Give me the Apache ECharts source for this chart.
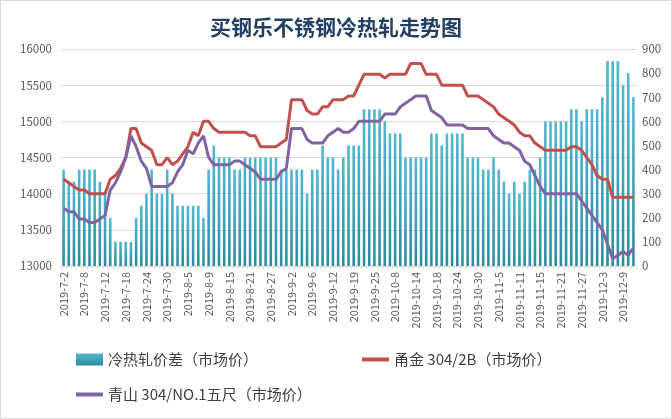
<!DOCTYPE html>
<html>
<head>
<meta charset="utf-8">
<script src="https://cdn.jsdelivr.net/npm/echarts@6/dist/echarts.min.js"></script>
<style>
html,body{margin:0;padding:0;background:#fff;}
#chart{width:672px;height:419px;box-sizing:border-box;border:1px solid #D6DCE5;}
</style>
</head>
<body>
<div id="chart"></div>
<script>
var titleText = '买钢乐不锈钢冷热轧走势图';
var seriesNames = ['冷热轧价差（市场价）', '甬金 304/2B（市场价）', '青山 304/NO.1五尺（市场价）'];

var dates = [
'2019-7-2','2019-7-3','2019-7-4','2019-7-5','2019-7-8','2019-7-9','2019-7-10','2019-7-11','2019-7-12',
'2019-7-15','2019-7-16','2019-7-17','2019-7-18','2019-7-19','2019-7-22','2019-7-23','2019-7-24','2019-7-25',
'2019-7-26','2019-7-29','2019-7-30','2019-7-31','2019-8-1','2019-8-2','2019-8-5','2019-8-6','2019-8-7',
'2019-8-8','2019-8-9','2019-8-12','2019-8-13','2019-8-14','2019-8-15','2019-8-16','2019-8-19','2019-8-20',
'2019-8-21','2019-8-22','2019-8-23','2019-8-26','2019-8-27','2019-8-28','2019-8-29','2019-8-30','2019-9-2',
'2019-9-3','2019-9-4','2019-9-5','2019-9-6','2019-9-9','2019-9-10','2019-9-11','2019-9-12','2019-9-16',
'2019-9-17','2019-9-18','2019-9-19','2019-9-20','2019-9-23','2019-9-24','2019-9-25','2019-9-26','2019-9-27',
'2019-9-30','2019-10-8','2019-10-9','2019-10-10','2019-10-11','2019-10-14','2019-10-15','2019-10-16','2019-10-17',
'2019-10-18','2019-10-21','2019-10-22','2019-10-23','2019-10-24','2019-10-25','2019-10-28','2019-10-29','2019-10-30',
'2019-10-31','2019-11-1','2019-11-4','2019-11-5','2019-11-6','2019-11-7','2019-11-8','2019-11-11','2019-11-12',
'2019-11-13','2019-11-14','2019-11-15','2019-11-18','2019-11-19','2019-11-20','2019-11-21','2019-11-22','2019-11-25',
'2019-11-26','2019-11-27','2019-11-28','2019-11-29','2019-12-2','2019-12-3','2019-12-4','2019-12-5','2019-12-6',
'2019-12-9','2019-12-10','2019-12-11'
];

var spread = [
400,350,350,400,400,400,400,350,300,200,
100,100,100,100,200,250,300,400,300,300,
400,300,250,250,250,250,250,200,400,500,
450,450,450,400,400,450,450,450,450,450,
450,450,400,400,400,400,400,300,400,400,
500,450,450,400,450,500,500,500,650,650,
650,650,600,550,550,550,450,450,450,450,
450,550,550,500,550,550,550,550,450,450,
450,400,400,450,400,350,300,350,300,350,
400,400,450,600,600,600,600,600,650,650,
600,650,650,650,700,850,850,850,750,800,
700
];

var yongjin = [
14200,14150,14100,14050,14050,14000,14000,14000,14000,14200,
14250,14350,14500,14900,14900,14700,14650,14600,14400,14400,
14500,14400,14450,14550,14650,14850,14800,15000,15000,14900,
14850,14850,14850,14850,14850,14850,14800,14800,14650,14650,
14650,14650,14700,14750,15300,15300,15300,15150,15100,15100,
15200,15200,15300,15300,15300,15350,15350,15500,15650,15650,
15650,15650,15600,15650,15650,15650,15650,15800,15800,15800,
15650,15650,15650,15500,15500,15500,15500,15500,15350,15350,
15350,15300,15250,15200,15100,15050,15000,14950,14850,14800,
14800,14700,14650,14600,14600,14600,14600,14600,14650,14650,
14600,14500,14400,14250,14200,14200,13950,13950,13950,13950,
13950
];

var qingshan = [
13800,13750,13750,13650,13650,13600,13600,13650,13700,14050,
14150,14300,14500,14800,14650,14450,14350,14100,14100,14100,
14100,14150,14300,14400,14600,14550,14700,14800,14500,14400,
14400,14400,14400,14450,14450,14400,14350,14300,14200,14200,
14200,14200,14300,14350,14900,14900,14900,14750,14700,14700,
14700,14800,14850,14900,14850,14850,14900,15000,15000,15000,
15000,15000,15100,15100,15100,15200,15250,15300,15350,15350,
15350,15150,15100,15050,14950,14950,14950,14950,14900,14900,
14900,14900,14900,14800,14750,14700,14700,14650,14600,14450,
14400,14250,14100,14000,14000,14000,14000,14000,14000,14000,
13900,13800,13700,13600,13500,13300,13100,13150,13200,13150,
13250
];

var leftTicks = {min: 13000, max: 16000, interval: 500};
var rightTicks = {min: 0, max: 900, interval: 100};

var FONT = '"Noto Sans CJK SC", "Noto Sans", sans-serif';
var chart = echarts.init(document.getElementById('chart'), null, {renderer: 'canvas'});

var legendText = {fontSize: 15, color: '#404040', fontFamily: FONT};
var plain = function (v) { return String(v); };

var option = {
  backgroundColor: '#ffffff',
  animation: false,
  title: {
    text: titleText,
    left: 'center',
    top: 11,
    textStyle: {fontSize: 21, fontWeight: 'bold', color: '#243F60', fontFamily: FONT}
  },
  legend: [
    {data: [seriesNames[0]], left: 70, top: 346, itemWidth: 27, itemHeight: 12, itemGap: 5, textStyle: legendText, icon: 'rect'},
    {data: [seriesNames[1]], left: 356, top: 346, itemWidth: 27, itemHeight: 4, textStyle: legendText, icon: 'rect'},
    {data: [seriesNames[2]], left: 70, top: 381, itemWidth: 27, itemHeight: 4, textStyle: legendText, icon: 'rect'}
  ],
  grid: {left: 60, right: 35, top: 48, bottom: 152, containLabel: false},
  xAxis: {
    type: 'category',
    data: dates,
    boundaryGap: true,
    axisLine: {show: true, lineStyle: {color: '#D9D9D9'}},
    axisTick: {show: true, interval: 0, length: 3, lineStyle: {color: '#E3D6D6'}},
    axisLabel: {interval: 3, rotate: 90, fontSize: 11, color: '#595959', margin: 6, fontFamily: FONT}
  },
  yAxis: [
    {
      type: 'value', min: leftTicks.min, max: leftTicks.max, interval: leftTicks.interval,
      axisLine: {show: false}, axisTick: {show: false},
      axisLabel: {fontSize: 11.5, color: '#595959', margin: 9, fontFamily: FONT, formatter: plain},
      splitLine: {lineStyle: {color: '#D9D9D9'}}
    },
    {
      type: 'value', min: rightTicks.min, max: rightTicks.max, interval: rightTicks.interval,
      axisLine: {show: false}, axisTick: {show: false},
      axisLabel: {fontSize: 11.5, color: '#595959', margin: 6, fontFamily: FONT, formatter: plain},
      splitLine: {show: false}
    }
  ],
  series: [
    {
      name: seriesNames[0], type: 'bar', yAxisIndex: 1, data: spread,
      barWidth: '50%',
      itemStyle: {color: new echarts.graphic.LinearGradient(0, 0, 0, 1, [
        {offset: 0, color: '#52B8D1'}, {offset: 1, color: '#2C8C9F'}
      ])}
    },
    {
      name: seriesNames[1], type: 'line', yAxisIndex: 0, data: yongjin,
      showSymbol: false, symbol: 'none', color: '#C0504D',
      lineStyle: {width: 3, color: '#C0504D'}, z: 3
    },
    {
      name: seriesNames[2], type: 'line', yAxisIndex: 0, data: qingshan,
      showSymbol: false, symbol: 'none', color: '#8064A2',
      lineStyle: {width: 3, color: '#8064A2'}, z: 4
    }
  ]
};
chart.setOption(option);
</script>
</body>
</html>
